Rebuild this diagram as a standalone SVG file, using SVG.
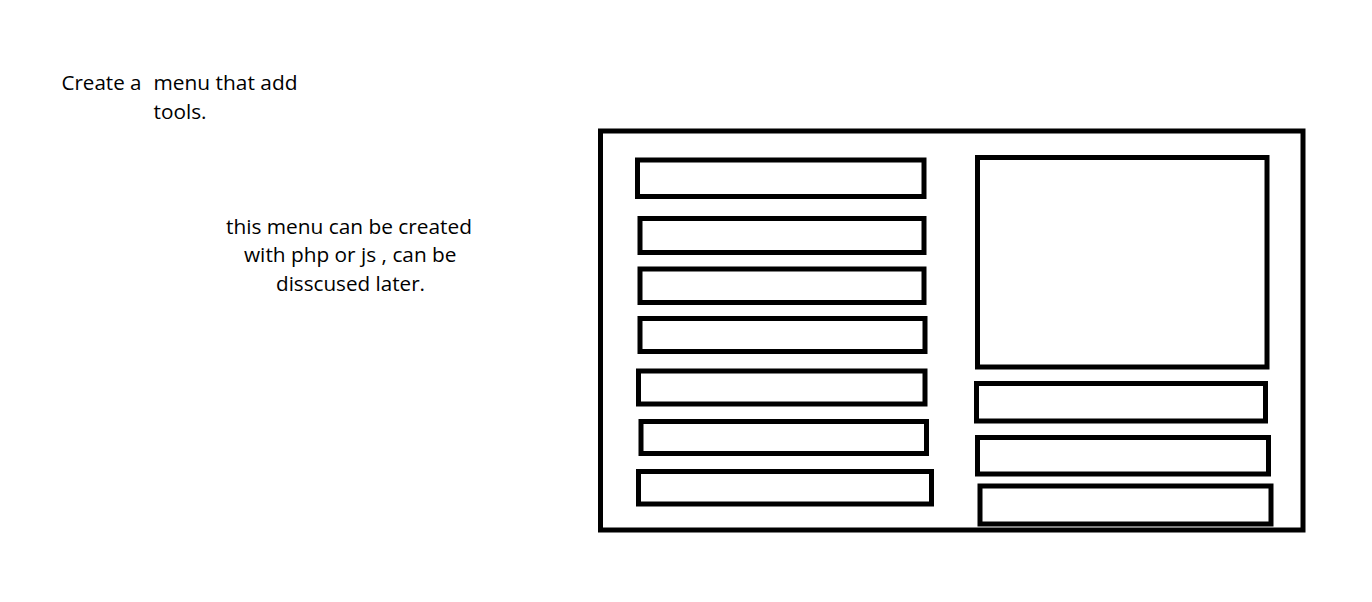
<svg xmlns="http://www.w3.org/2000/svg" width="1372" height="602" viewBox="0 0 1372 602">
<style>
.b{fill:none;stroke:#000;stroke-width:5}
.t{font-family:"Open Sans",Lato,"Liberation Sans",sans-serif;font-size:20px;fill:#000}
</style>
<rect width="1372" height="602" fill="#fff"/>
<g id="note1">
<text class="t" x="61.5" y="90" textLength="80" lengthAdjust="spacingAndGlyphs">Create a</text>
<text class="t" x="153.5" y="90" textLength="144" lengthAdjust="spacingAndGlyphs">menu that add</text>
<text class="t" x="153.5" y="118.5" textLength="53" lengthAdjust="spacingAndGlyphs">tools.</text>
</g>
<g id="note2">
<text class="t" x="226" y="233.5" textLength="246" lengthAdjust="spacingAndGlyphs">this menu can be created</text>
<text class="t" x="244" y="262" textLength="212.5" lengthAdjust="spacingAndGlyphs">with php or js , can be</text>
<text class="t" x="276" y="291" textLength="149" lengthAdjust="spacingAndGlyphs">disscused later.</text>
</g>
<g id="frame"><rect class="b" x="600.5" y="131" width="702.5" height="399"/></g>
<g id="left-items">
<rect id="l1" class="b" x="637.5" y="160" width="286.5" height="36.5"/>
<rect id="l2" class="b" x="640" y="218.5" width="284" height="34"/>
<rect id="l3" class="b" x="640" y="269" width="284" height="33.5"/>
<rect id="l4" class="b" x="640" y="318.5" width="285" height="33"/>
<rect id="l5" class="b" x="638.5" y="371" width="286.5" height="33"/>
<rect id="l6" class="b" x="641" y="421.5" width="285.5" height="32"/>
<rect id="l7" class="b" x="638.5" y="471.5" width="293" height="32.5"/>
</g>
<g id="right-items">
<rect id="preview" class="b" x="977.5" y="157.5" width="289.5" height="209.5"/>
<rect id="r1" class="b" x="976.5" y="383.5" width="289" height="37.5"/>
<rect id="r2" class="b" x="977.5" y="437.5" width="291" height="36.5"/>
<rect id="r3" class="b" x="980" y="486" width="291" height="38"/>
</g>
<g id="connectors"/>
</svg>
